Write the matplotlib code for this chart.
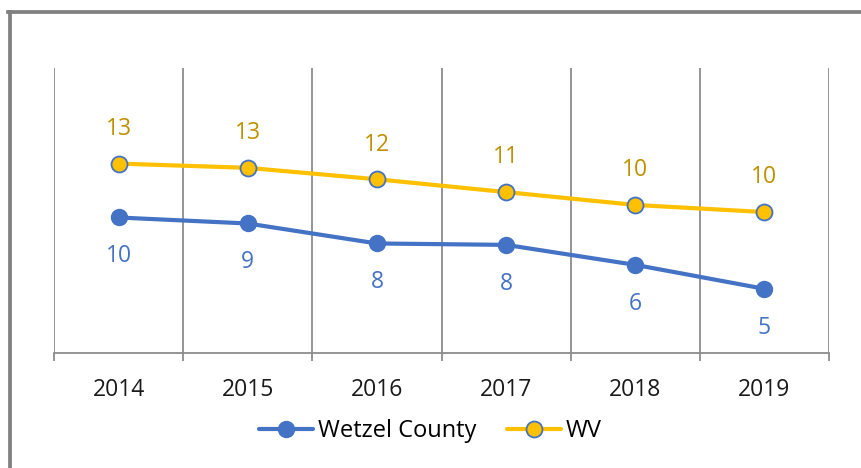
import matplotlib
matplotlib.use("Agg")
import matplotlib.pyplot as plt
from matplotlib.lines import Line2D

years = ["2014", "2015", "2016", "2017", "2018", "2019"]
wetzel = [9.52, 9.1, 7.7, 7.6, 6.2, 4.52]
wv = [13.3, 13.0, 12.2, 11.3, 10.4, 9.9]

BLUE = "#4472C4"
GOLD = "#FFC000"
GOLD_TXT = "#BF9000"
GRID = "#8C8C8C"

plt.rcParams['font.family'] = ['Open Sans', 'DejaVu Sans']

W, H = 861, 468
fig = plt.figure(figsize=(W / 100, H / 100), dpi=100)
ax = fig.add_axes([54 / W, (H - 353.3) / H, (829 - 54) / W, (353.3 - 68) / H])

x = list(range(len(years)))
ax.plot(x, wetzel, color=BLUE, lw=3, marker='o', ms=11.5, mfc=BLUE, mec=BLUE,
        mew=1, label="Wetzel County", zorder=4, solid_capstyle='round')
ax.plot(x, wv, color=GOLD, lw=3, marker='o', ms=11.5, mfc=GOLD, mec=BLUE,
        mew=1.3, label="WV", zorder=4, solid_capstyle='round')

for i, v in enumerate(wv):
    ax.annotate(f"{v:.0f}", (i, v), xytext=(0, 25), textcoords='offset points',
                ha='center', va='center', color=GOLD_TXT, fontsize=16.5)
for i, v in enumerate(wetzel):
    ax.annotate(f"{v:.0f}", (i, v), xytext=(0, -28), textcoords='offset points',
                ha='center', va='center', color=BLUE, fontsize=16.5)

ax.set_xlim(-0.5, len(years) - 0.5)
ax.set_ylim(0, 20)
ax.set_xticks(x)
ax.set_xticklabels(years, fontsize=16.5, color="#1a1a1a")
ax.tick_params(axis='x', which='major', length=0, pad=18)
ax.set_xticks([i - 0.5 for i in range(len(years) + 1)], minor=True)
ax.tick_params(axis='x', which='minor', length=6, width=1.3, color=GRID, direction='out')
ax.set_yticks([])
ax.grid(True, which='minor', axis='x', color=GRID, lw=1.3)
ax.grid(False, which='major')
for s in ['top', 'right', 'left']:
    ax.spines[s].set_visible(False)
ax.spines['bottom'].set_color(GRID)
ax.spines['bottom'].set_linewidth(1.3)

fig.legend(loc='center', bbox_to_anchor=(0.5, 37 / H), ncol=2, frameon=False,
           fontsize=17, handlelength=2.3, handletextpad=0.2, columnspacing=1.3)

# outer border
fig.add_artist(Line2D([9.5 / W, 9.5 / W], [0, (H - 12) / H], color="#808080", lw=2.7,
                      transform=fig.transFigure))
fig.add_artist(Line2D([8 / W, 1], [(H - 12) / H, (H - 12) / H], color="#808080", lw=2.7,
                      transform=fig.transFigure))

fig.savefig("out.png", dpi=100)
